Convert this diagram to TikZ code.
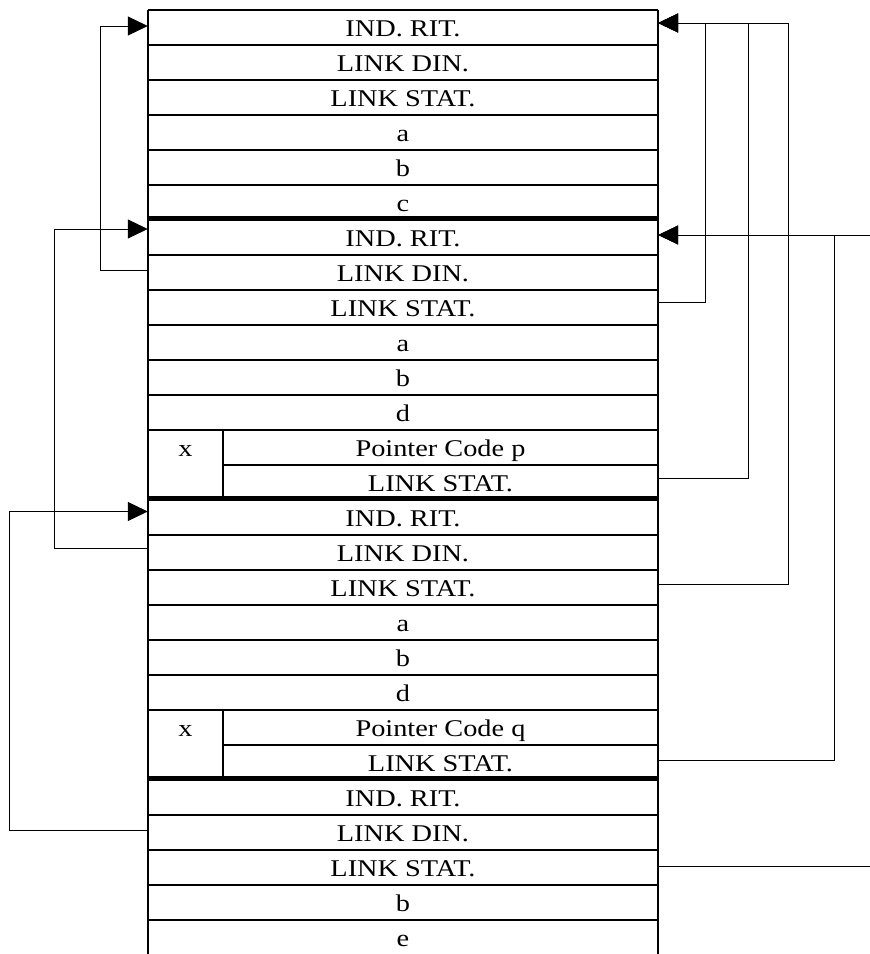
\documentclass[tikz,border=0pt]{standalone}
\usepackage{fontspec}
\setmainfont{Liberation Serif}[FakeStretch=1.18]
\usetikzlibrary{arrows.meta,positioning}

\begin{document}
\begin{tikzpicture}[x=1pt,y=-1pt,font=\fontsize{24}{28}\selectfont,inner sep=0pt,
  cell/.style={minimum width=510pt,minimum height=35pt,text height=20pt,text depth=3pt},
  subcell/.style={cell,minimum width=435pt},
  tabline/.style={line width=1.3pt},
  heavyline/.style={line width=4.5pt},
  link/.style={line width=1pt},
  arr/.style={-{Triangle[length=20pt,width=19pt]}}]
\useasboundingbox (0,0) rectangle (870,954);
% rows
\node[cell] (r0) at (403,27.5) {IND. RIT.};
\node[cell] (r1) at (403,62.5) {LINK DIN.};
\node[cell] (r2) at (403,97.5) {LINK STAT.};
\node[cell] (r3) at (403,132.5) {a};
\node[cell] (r4) at (403,167.5) {b};
\node[cell] (r5) at (403,202.5) {c};
\node[cell] (r6) at (403,237.5) {IND. RIT.};
\node[cell] (r7) at (403,272.5) {LINK DIN.};
\node[cell] (r8) at (403,307.5) {LINK STAT.};
\node[cell] (r9) at (403,342.5) {a};
\node[cell] (r10) at (403,377.5) {b};
\node[cell] (r11) at (403,412.5) {d};
\node[subcell] (r12) at (440.5,447.5) {Pointer Code p};
\node[subcell] (r13) at (440.5,482.5) {LINK STAT.};
\node[cell,minimum width=75pt] (x1) at (185.5,447.5) {x};
\node[cell] (r14) at (403,517.5) {IND. RIT.};
\node[cell] (r15) at (403,552.5) {LINK DIN.};
\node[cell] (r16) at (403,587.5) {LINK STAT.};
\node[cell] (r17) at (403,622.5) {a};
\node[cell] (r18) at (403,657.5) {b};
\node[cell] (r19) at (403,692.5) {d};
\node[subcell] (r20) at (440.5,727.5) {Pointer Code q};
\node[subcell] (r21) at (440.5,762.5) {LINK STAT.};
\node[cell,minimum width=75pt] (x2) at (185.5,727.5) {x};
\node[cell] (r22) at (403,797.5) {IND. RIT.};
\node[cell] (r23) at (403,832.5) {LINK DIN.};
\node[cell] (r24) at (403,867.5) {LINK STAT.};
\node[cell] (r25) at (403,902.5) {b};
\node[cell] (r26) at (403,937.5) {e};
% grid
\foreach \k in {0,...,5,7,8,...,12,15,16,...,20,23,24,...,27}
  \draw[tabline] (148,{10+35*\k}) -- (658,{10+35*\k});
\foreach \k in {13,21}
  \draw[tabline] (223,{10+35*\k}) -- (658,{10+35*\k});
\foreach \k in {6,14,22}
  \draw[heavyline] (148,{8.5+35*\k}) -- (658,{8.5+35*\k});
\draw[tabline] (148,10) -- (148,960);
\draw[tabline] (658,10) -- (658,960);
\draw[tabline] (223,430) -- (223,500);
\draw[tabline] (223,710) -- (223,780);
% left links
\draw[link,arr] ([yshift=2.5pt]r7.west) -- ++(-47,0) |- ([yshift=1.5pt]r0.west);
\draw[link,arr] ([yshift=4pt]r15.west) -- ++(-93,0) |- ([yshift=8.5pt]r6.west);
\draw[link,arr] ([yshift=2.5pt]r23.west) -- ++(-138,0) |- ([yshift=6pt]r14.west);
% right links
\draw[link,arr] ([yshift=5.5pt]r8.east) -- ++(47,0) |- ([yshift=4.5pt]r0.east);
\draw[link,arr] ([yshift=4.5pt]r13.east) -- ++(90,0) |- ([yshift=4.5pt]r0.east);
\draw[link,arr] ([yshift=3pt]r16.east) -- ++(130,0) |- ([yshift=4.5pt]r0.east);
\draw[link,arr] ([yshift=2.5pt]r21.east) -- ++(176,0) |- ([yshift=2.5pt]r6.east);
\coordinate (e6) at (870,235);
\draw[link,arr] (e6) -- ([yshift=2.5pt]r6.east);
\draw[link] ([yshift=1pt]r24.east) -- ++(212,0) coordinate (e24);
\end{tikzpicture}
\end{document}
